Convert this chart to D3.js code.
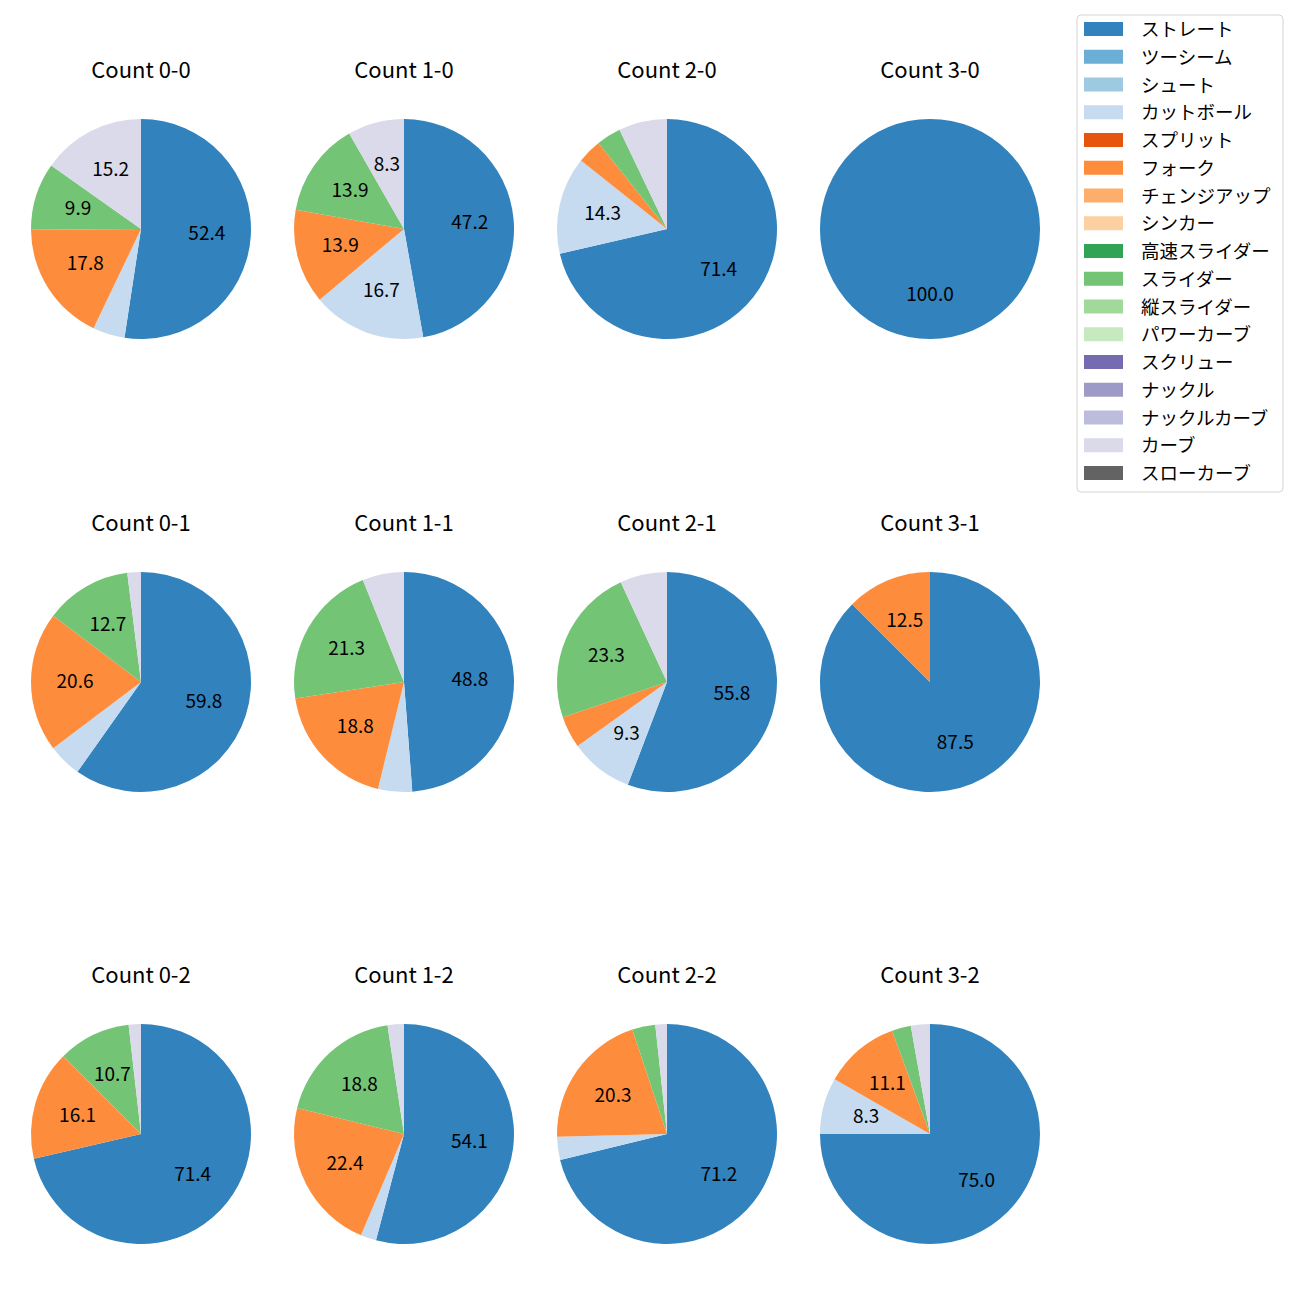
<!DOCTYPE html>
<html lang="ja">
<head>
<meta charset="UTF-8">
<title>Count pies</title>
<style>
  body { margin: 0; background: #fff; }
  svg { display: block; font-family: "Noto Sans CJK JP", "Noto Sans", sans-serif; }
</style>
</head>
<body>
<svg id="chart" width="1300" height="1300"></svg>
<script src="https://d3js.org/d3.v7.min.js"></script>
<script>
// all pitch types in legend order
const pitchTypes = ["ストレート", "ツーシーム", "シュート", "カットボール", "スプリット", "フォーク",
  "チェンジアップ", "シンカー", "高速スライダー", "スライダー", "縦スライダー", "パワーカーブ",
  "スクリュー", "ナックル", "ナックルカーブ", "カーブ", "スローカーブ"];
const palette = ["#3182bd", "#6baed6", "#9ecae1", "#c6dbef", "#e6550d", "#fd8d3c", "#fdae6b", "#fdd0a2",
  "#31a354", "#74c476", "#a1d99b", "#c7e9c0", "#756bb1", "#9e9ac8", "#bcbddc", "#dadaeb", "#636363"];

// types that actually appear in the pies
const usedTypes = ["ストレート", "カットボール", "フォーク", "スライダー", "カーブ"];

// percentages per count, in usedTypes order
const count00 = [52.4, 4.7, 17.8, 9.9, 15.2];
const count10 = [47.2, 16.7, 13.9, 13.9, 8.3];
const count20 = [71.4, 14.3, 3.6, 3.6, 7.1];
const count30 = [100.0, 0, 0, 0, 0];
const count01 = [59.8, 4.9, 20.6, 12.7, 2.0];
const count11 = [48.8, 5.0, 18.8, 21.3, 6.1];
const count21 = [55.8, 9.3, 4.7, 23.3, 6.9];
const count31 = [87.5, 0, 12.5, 0, 0];
const count02 = [71.4, 0, 16.1, 10.7, 1.8];
const count12 = [54.1, 2.3, 22.4, 18.8, 2.4];
const count22 = [71.2, 3.4, 20.3, 3.4, 1.7];
const count32 = [75.0, 8.3, 11.1, 2.8, 2.8];

const titles = [
  ["Count 0-0", "Count 1-0", "Count 2-0", "Count 3-0"],
  ["Count 0-1", "Count 1-1", "Count 2-1", "Count 3-1"],
  ["Count 0-2", "Count 1-2", "Count 2-2", "Count 3-2"]
];
const grid = [
  [count00, count10, count20, count30],
  [count01, count11, count21, count31],
  [count02, count12, count22, count32]
];

const svg = d3.select("#chart");
const color = d3.scaleOrdinal().domain(pitchTypes).range(palette);

const colX = [141, 404, 667, 930];
const rowY = [229, 682, 1134];
const r = 110;

const pie = d3.pie().sort(null).value(d => d.v).startAngle(0).endAngle(2 * Math.PI);
const arc = d3.arc().innerRadius(0).outerRadius(r);
const labelArc = d3.arc().innerRadius(r * 0.6).outerRadius(r * 0.6);

grid.forEach((row, ri) => {
  row.forEach((vals, ci) => {
    const data = vals.map((v, i) => ({ type: usedTypes[i], v: v })).filter(d => d.v > 0);
    const total = d3.sum(data, d => d.v);
    const g = svg.append("g").attr("transform", `translate(${colX[ci]},${rowY[ri]})`);

    const arcs = pie(data);
    g.selectAll("path").data(arcs).join("path")
      .attr("d", arc)
      .attr("fill", d => color(d.data.type));

    g.selectAll("text.pct").data(arcs.filter(d => d.data.v / total * 100 >= 8)).join("text")
      .attr("class", "pct")
      .attr("transform", d => {
        const [x, y] = labelArc.centroid(d);
        return `translate(${x},${y - 2.5})`;
      })
      .attr("text-anchor", "middle")
      .attr("dominant-baseline", "central")
      .attr("font-size", 19)
      .attr("fill", "#000")
      .text(d => (d.data.v / total * 100).toFixed(1));

    svg.append("text")
      .attr("x", colX[ci])
      .attr("y", rowY[ri] - 161.5)
      .attr("text-anchor", "middle")
      .attr("dominant-baseline", "central")
      .attr("font-size", 22)
      .attr("fill", "#000")
      .text(titles[ri][ci]);
  });
});

// legend
const legend = svg.append("g");
legend.append("rect")
  .attr("x", 1077).attr("y", 15)
  .attr("width", 206).attr("height", 477)
  .attr("rx", 4)
  .attr("fill", "#fff").attr("fill-opacity", 0.8)
  .attr("stroke", "#d5d5d5");

const rowStep = 27.75;
pitchTypes.forEach((t, i) => {
  const y = 29 + i * rowStep;
  legend.append("rect")
    .attr("x", 1084).attr("y", y - 7)
    .attr("width", 39).attr("height", 14)
    .attr("fill", color(t));
  legend.append("text")
    .attr("x", 1141).attr("y", y - 1)
    .attr("dominant-baseline", "central")
    .attr("font-size", 18.5)
    .attr("fill", "#000")
    .text(t);
});
</script>
</body>
</html>
